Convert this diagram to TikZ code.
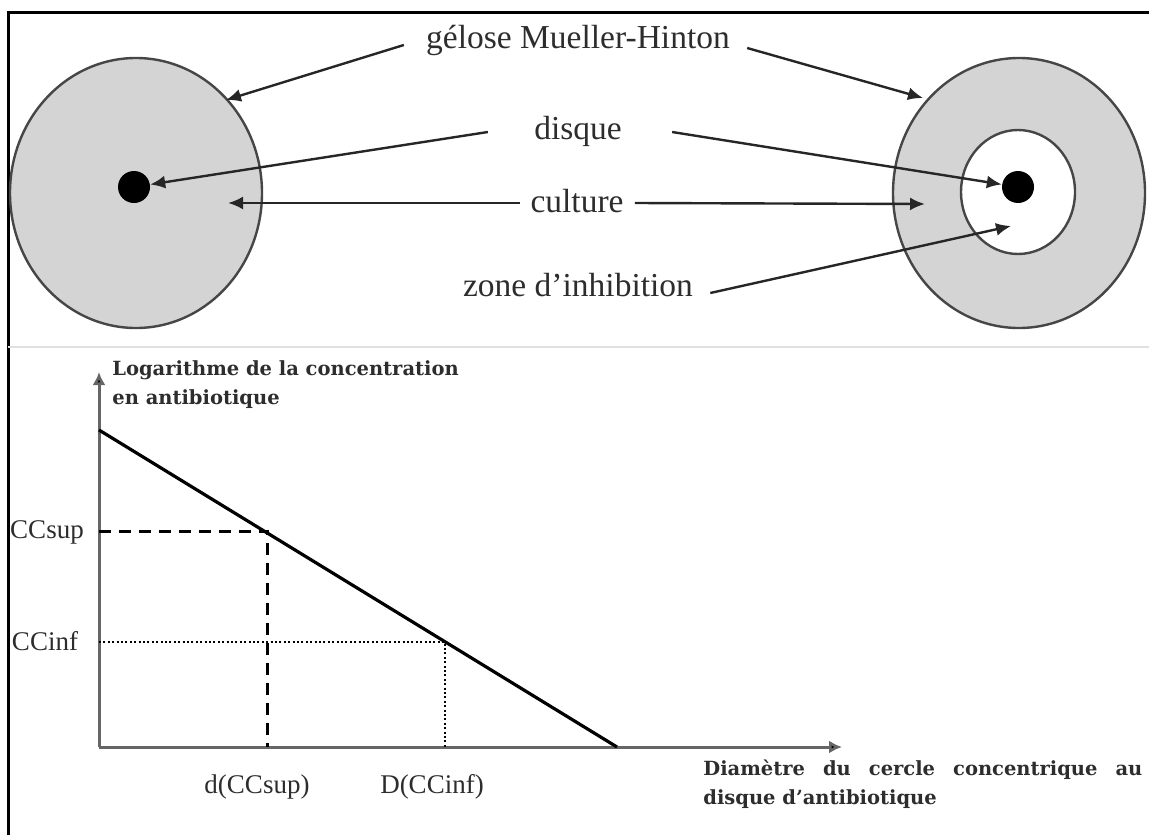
\documentclass[tikz,border=0pt]{standalone}
\usepackage{fontspec}
\setmainfont{Liberation Serif}
\newfontfamily\axisfont{DejaVu Serif}
\usetikzlibrary{arrows.meta,shapes.geometric}
\definecolor{agar}{RGB}{212,212,212}
\definecolor{rim}{RGB}{70,70,70}
\definecolor{ink}{RGB}{45,45,45}

\begin{document}
\begin{tikzpicture}[x=0.5pt,y=-0.5pt,
    lbl/.style={text=ink,inner sep=2pt,font=\fontsize{16.75}{20}\selectfont},
    cclbl/.style={text=ink,inner sep=0pt,font=\fontsize{13.5}{16}\selectfont},
    axislbl/.style={text=ink,inner sep=0pt,font=\axisfont\bfseries\fontsize{9.75}{14.5}\selectfont},
    arr/.style={line width=1.2pt,draw=black!85,-{Latex[length=7.5pt,width=6.5pt]}},
    petri/.style={ellipse,draw=rim,line width=1.2pt,fill=agar,minimum width=126pt,minimum height=135pt},
    disk/.style={circle,fill=black,minimum size=16pt,inner sep=0pt},
    axis/.style={draw=black!60,line width=1.5pt,-{Latex[length=6.5pt,width=6.5pt,fill=black]}}]
    \useasboundingbox (0,0) rectangle (1149,835);

    % cadre
    \draw[line width=1.5pt] (8,835) -- (8,12) -- (1149,12);
    \draw[black!12,line width=1pt] (8,347) -- (1149,347);

    % boites de Petri
    \node[petri] (boiteL) at (136,193) {};
    \node[petri] (boiteR) at (1019,193) {};
    \node[ellipse,draw=rim,line width=1.2pt,fill=white,minimum width=57pt,minimum height=62pt] (halo) at (1018,192) {};
    \node[disk] (disqueL) at (134,187) {};
    \node[disk] (disqueR) at (1018,187) {};

    \coordinate (gelL) at (226,100);
    \coordinate (gelR) at (923,98);
    \coordinate (cultL) at (228,203);
    \coordinate (cultR) at (925,204);
    \coordinate (zoneR) at (1011,226);

    \node[lbl] (gelose) at (578,40) {gélose Mueller-Hinton};
    \node[lbl] (disque) at (578,131) {disque};
    \node[lbl] (culture) at (577,201) {culture};
    \node[lbl] (zone) at (578,285) {zone d'inhibition};

    \draw[arr] ([shift={(-18,5)}]gelose.west) -- (gelL);
    \draw[arr] ([shift={(13,8)}]gelose.east) -- (gelR);
    \draw[arr] ([shift={(-42,1)}]disque.west) -- (disqueL);
    \draw[arr] ([shift={(46,1)}]disque.east) -- (disqueR);
    \draw[arr] ([shift={(-6,2)}]culture.west) -- (cultL);
    \draw[arr] ([shift={(7,2)}]culture.east) -- (cultR);
    \draw[arr] ([shift={(13,8)}]zone.east) -- (zoneR);

    % courbe
    \coordinate (origine) at (99,747);
    \coordinate (ytip) at (99,372);
    \coordinate (xtip) at (842,747);
    \coordinate (debut) at (99,430);
    \coordinate (fin) at (617,747);
    \coordinate (psup) at (267,531);
    \coordinate (pinf) at (445,642);

    \draw[axis] (origine) -- (ytip);
    \draw[axis] (origine) -- (xtip);
    \draw[dash pattern=on 6pt off 4pt,line width=1.5pt] (origine |- psup) -- (psup) -- (psup |- origine);
    \draw[dash pattern=on 1pt off 1.2pt,line width=1.2pt] (origine |- pinf) -- (pinf) -- (pinf |- origine);
    \draw[line width=1.6pt] (debut) -- (fin);

    \node[cclbl] (ccsup) at (47,532) {CCsup};
    \node[cclbl] (ccinf) at (45,641) {CCinf};
    \node[cclbl] (dsup) at (257,787) {d(CCsup)};
    \node[cclbl] (Dinf) at (432,787) {D(CCinf)};

    \node[axislbl,anchor=north west,align=left] (ylabel) at (112,360) {Logarithme de la concentration\\en antibiotique};
    \node[axislbl,anchor=north west,text width=219.5pt,align=justify] (xlabel) at (703,759) {Diamètre du cercle concentrique au\linebreak disque d’antibiotique};
\end{tikzpicture}
\end{document}
